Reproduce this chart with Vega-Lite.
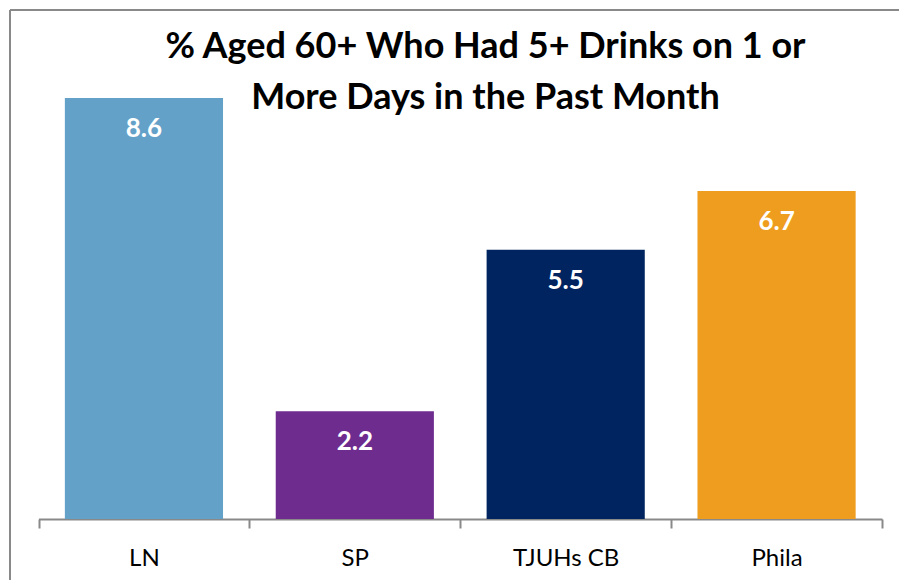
{
  "$schema": "https://vega.github.io/schema/vega-lite/v6.json",
  "autosize": "none",
  "width": 889,
  "height": 570,
  "padding": {"left": 10, "top": 10, "right": 0, "bottom": 0},
  "background": "white",
  "config": {
    "view": {"stroke": "#898989", "strokeWidth": 2, "strokeDash": [889, 1459, 570, 0]},
    "font": "Lato"
  },
  "title": {
    "text": ["% Aged 60+ Who Had 5+ Drinks on 1 or", "More Days in the Past Month"],
    "font": "Lato",
    "fontSize": 36,
    "fontWeight": "bold",
    "color": "#000000",
    "anchor": "middle",
    "lineHeight": 51,
    "offset": -107,
    "dx": 31
  },
  "data": {
    "values": [
      {"area": "LN", "pct": 8.6, "color": "#64A1C9"},
      {"area": "SP", "pct": 2.2, "color": "#6E2C8F"},
      {"area": "TJUHs CB", "pct": 5.5, "color": "#00245F"},
      {"area": "Phila", "pct": 6.7, "color": "#EE9D1F"}
    ]
  },
  "encoding": {
    "x": {
      "field": "area",
      "type": "nominal",
      "sort": null,
      "scale": {"range": [28.5, 872], "paddingInner": 0, "paddingOuter": 0},
      "axis": {
        "title": null,
        "orient": "bottom",
        "offset": -61,
        "labelAngle": 0,
        "labelFont": "Lato",
        "labelFontSize": 24,
        "labelColor": "#000000",
        "labelPadding": 18,
        "domainColor": "#898989",
        "domainWidth": 2,
        "tickColor": "#898989",
        "tickWidth": 2,
        "tickSize": 9,
        "tickBand": "extent",
        "grid": false
      }
    },
    "y": {
      "field": "pct",
      "type": "quantitative",
      "scale": {"domain": [0, 10], "range": [509, 19.5], "nice": false, "zero": true},
      "axis": null
    }
  },
  "layer": [
    {
      "mark": {"type": "bar", "width": {"band": 0.75}},
      "encoding": {
        "color": {"field": "color", "type": "nominal", "scale": null, "legend": null}
      }
    },
    {
      "mark": {"type": "text", "baseline": "middle", "dy": 31, "font": "Lato", "fontSize": 26, "fontWeight": "bold", "color": "white"},
      "encoding": {
        "text": {"field": "pct", "type": "quantitative", "format": ".1f"}
      }
    }
  ]
}
